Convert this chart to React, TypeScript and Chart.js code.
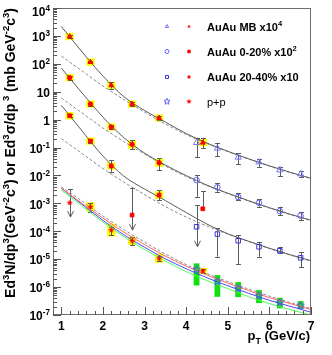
import React, { useEffect, useRef } from "react";
import { Chart, registerables } from "chart.js";
Chart.register(...registerables);

// ---------------- data ----------------
const xTicks = [1, 2, 3, 4, 5, 6, 7];
const yDecades = [-7, -6, -5, -4, -3, -2, -1, 0, 1, 2, 3, 4];

const ptCurve = [1, 1.5, 2, 2.5, 3, 3.5, 4, 4.5, 5, 5.5, 6, 6.5, 7];
// p+p fit (dashed) and NLO pQCD curves (three scales)
const ppFitCurve = [3.9e-3, 1.209e-3, 3.51e-4, 1.151e-4, 4.1e-5, 1.524e-5, 6.4e-6, 3.05e-6, 1.574e-6, 8.48e-7, 4.76e-7, 2.78e-7, 1.696e-7];
const ppNloRed = [3.5e-3, 9.9e-4, 2.97e-4, 9.36e-5, 3.34e-5, 1.292e-5, 5.66e-6, 2.69e-6, 1.391e-6, 7.49e-7, 4.2e-7, 2.56e-7, 1.562e-7];
const ppNloBlue = [3.45e-3, 9.21e-4, 2.46e-4, 7.49e-5, 2.67e-5, 1.034e-5, 4.53e-6, 2.16e-6, 1.113e-6, 5.99e-7, 3.37e-7, 2.05e-7, 1.25e-7];
const ppNloGreen = [3.0e-3, 8.0e-4, 2.14e-4, 6.46e-5, 2.21e-5, 8.55e-6, 3.59e-6, 1.71e-6, 8.84e-7, 4.57e-7, 2.56e-7, 1.56e-7, 1.0e-7];
// Au+Au: scaled p+p fit (dashed) and fit + exponential (solid)
const mbTaaCurve = [190.4, 55.2, 16.03, 5.26, 1.872, 0.696, 0.292, 0.139, 0.0719, 0.0387, 0.0217, 0.0127, 0.00774];
const mbFullCurve = [2172, 264.8, 36.5, 6.73, 2.12, 0.82, 0.3176, 0.145, 0.0733, 0.0395, 0.0221, 0.01295, 0.0079];
const c020TaaCurve = [5.95, 1.724, 0.5005, 0.1641, 0.0585, 0.02173, 9.13e-3, 4.35e-3, 2.245e-3, 1.209e-3, 6.79e-4, 3.96e-4, 2.42e-4];
const c020FullCurve = [70.7, 8.98, 1.239, 0.2284, 0.0635, 0.0236, 9.92e-3, 4.48e-3, 2.31e-3, 1.245e-3, 7.0e-4, 4.08e-4, 2.49e-4];
const c2040TaaCurve = [0.2102, 0.0609, 0.01769, 5.8e-3, 2.066e-3, 7.68e-4, 3.23e-4, 1.537e-4, 7.93e-5, 4.27e-5, 2.4e-5, 1.401e-5, 8.55e-6];
const c2040FullCurve = [3.255, 0.3904, 0.04959, 9.52e-3, 3.255e-3, 1.26e-3, 4.68e-4, 1.81e-4, 8.17e-5, 4.4e-5, 2.47e-5, 1.443e-5, 8.8e-6];

const ptVirtual = [1.2, 1.7, 2.2, 2.7, 3.35, 4.4];
const ptReal = [4.25, 4.75, 5.25, 5.75, 6.25, 6.75];

// Au+Au MB x10^4
const mbVirtual = [950, 116, 17, 3.62, 1.14, 0.149];
const mbVirtualLo = [870, 104, 13, 3.0, 0.95, 0.0936];
const mbVirtualHi = [1040, 128, 22, 4.3, 1.4, 0.2246];
const mbVirtualSys = [1.35, 1.35, 1.35, 1.35, 1.35, 1.35];
const mbReal = [0.149, 0.0936, 0.0445, 0.0302, 0.0156, 0.01122];
const mbRealLo = [0.0445, 0.0496, 0.0256, 0.0205, 0.0095, 0.00855];
const mbRealHi = [0.2246, 0.1486, 0.0619, 0.0378, 0.0205, 0.01474];

// Au+Au 0-20% x10^2
const c020Virtual = [31.8, 3.62, 0.543, 0.1302, 0.0285, null];
const c020VirtualLo = [27, 3.2, 0.46, 0.0862, 0.0156, null];
const c020VirtualHi = [38, 4.1, 0.64, 0.1857, 0.041, null];
const c020VirtualSys = [1.35, 1.35, 1.35, 1.42, 1.4, 0];
const c020Real = [6.84e-3, 3.75e-3, 1.68e-3, 1.05e-3, 5.3e-4, 3.59e-4];
const c020RealLo = [1.72e-3, 2.6e-3, 1.31e-3, 7.55e-4, 3.81e-4, 2.52e-4];
const c020RealHi = [1.034e-2, 5.47e-3, 2.28e-3, 1.43e-3, 7.55e-4, 5.0e-4];

// Au+Au 20-40% x10
const c2040Virtual = [1.38, 0.171, 0.0217, 3.81e-4, 1.98e-3, 6.4e-4];
const c2040VirtualLo = [1.2, 0.148, 0.0136, null, 1.31e-3, null];
const c2040VirtualHi = [1.6, 0.2, 0.0356, 3.54e-3, 3.0e-3, 2.76e-3];
const c2040VirtualArrow = [null, null, null, 1.1e-4, null, null];
const c2040VirtualSys = [1.35, 1.35, 1.35, 0, 1.38, 0];
const c2040Real = [1.45e-4, 7.93e-5, 4.57e-5, 2.78e-5, 2.0e-5, 1.12e-5];
const c2040RealLo = [null, 1.22e-5, 6.67e-6, 1.22e-5, 1.61e-5, 5.08e-6];
const c2040RealHi = [8.69e-4, 1.27e-4, 7.31e-5, 4.2e-5, 2.78e-5, 1.75e-5];
const c2040RealArrow = [2.78e-5, null, null, null, null, null];

// p+p
const ppVirtual = [1.05e-3, 7.55e-4, 1.104e-4, 4.57e-5, 1.068e-5, 3.75e-6];
const ppVirtualLo = [null, 5.0e-4, 7.31e-5, 3.2e-5, 8.5e-6, 3.2e-6];
const ppVirtualHi = [3.26e-3, 1.025e-3, 1.45e-4, 6.35e-5, 1.35e-5, 4.4e-6];
const ppVirtualArrow = [3.23e-4, null, null, null, null, null];
const ppVirtualSys = [0, 1.45, 1.7, 1.4, 1.45, 1.3];
const ppReal = [4.31e-6, 1.55e-6, 8.98e-7, 4.88e-7, 2.74e-7, 2.21e-7];
const ppRealSysLo = [1.144e-6, 4.49e-7, 4.38e-7, 2.67e-7, 1.72e-7, 1.63e-7];
const ppRealSysHi = [7.07e-6, 2.69e-6, 1.51e-6, 7.81e-7, 4.14e-7, 3.15e-7];

const legendRows = [
  { style: "triangle", text: "AuAu MB x10", exp: "4", bold: true },
  { style: "circle", text: "AuAu 0-20% x10", exp: "2", bold: true },
  { style: "rect", text: "AuAu 20-40% x10", exp: "", bold: true },
  { style: "star", text: "p+p", exp: "", bold: false },
];

// ---------------- styling ----------------
const FONT = "'Liberation Sans', Arial, Helvetica, sans-serif";
const RED = "#ff0000";
const BLUE_TRI = "#7878ff";
const BLUE_CIR = "#6060ff";
const BLUE_SQ = "#3838d8";
const BLUE_STAR = "#5656f0";
const YELLOW = "#ffff00";
const GREEN = "#10e010";
const ERR = "#5c5c5c";

type Seg = { t: string; s?: "sup" | "sub" };

function segFont(size: number, weight: string, s?: string) {
  const sz = s ? size * 0.68 : size;
  return `${weight} ${sz}px ${FONT}`;
}
function richWidth(ctx: CanvasRenderingContext2D, segs: Seg[], size: number, weight: string) {
  let w = 0;
  for (const sg of segs) {
    ctx.font = segFont(size, weight, sg.s);
    w += ctx.measureText(sg.t).width;
  }
  return w;
}
function drawRich(ctx: CanvasRenderingContext2D, segs: Seg[], x: number, y: number, size: number, weight: string, align: string) {
  const w = richWidth(ctx, segs, size, weight);
  let cx = align === "right" ? x - w : align === "center" ? x - w / 2 : x;
  ctx.textBaseline = "alphabetic";
  ctx.textAlign = "left";
  for (const sg of segs) {
    ctx.font = segFont(size, weight, sg.s);
    const dy = sg.s === "sup" ? -size * 0.42 : sg.s === "sub" ? size * 0.3 : 0;
    ctx.fillText(sg.t, cx, y + dy);
    cx += ctx.measureText(sg.t).width;
  }
}

function starCanvas(r: number, fill: string | null, stroke: string | null) {
  const s = Math.ceil(r * 2 + 3);
  const c = document.createElement("canvas");
  c.width = s;
  c.height = s;
  const g = c.getContext("2d")!;
  g.translate(s / 2, s / 2);
  g.beginPath();
  for (let i = 0; i < 10; i++) {
    const a = -Math.PI / 2 + (i * Math.PI) / 5;
    const rr = i % 2 === 0 ? r : r * 0.45;
    g.lineTo(rr * Math.cos(a), rr * Math.sin(a));
  }
  g.closePath();
  if (fill) {
    g.fillStyle = fill;
    g.fill();
  }
  if (stroke) {
    g.strokeStyle = stroke;
    g.lineWidth = 1;
    g.stroke();
  }
  return c;
}

function drawMarker(ctx: CanvasRenderingContext2D, style: string, x: number, y: number, r: number, fill: string | null, stroke: string | null) {
  ctx.beginPath();
  if (style === "triangle") {
    ctx.moveTo(x, y - r);
    ctx.lineTo(x + r * 0.87, y + r * 0.5);
    ctx.lineTo(x - r * 0.87, y + r * 0.5);
    ctx.closePath();
  } else if (style === "circle") {
    ctx.arc(x, y, r, 0, Math.PI * 2);
  } else {
    ctx.rect(x - r * 0.75, y - r * 0.75, r * 1.5, r * 1.5);
  }
  if (fill) {
    ctx.fillStyle = fill;
    ctx.fill();
  }
  if (stroke) {
    ctx.strokeStyle = stroke;
    ctx.lineWidth = 1;
    ctx.stroke();
  }
}

type ErrSet = { x: number[]; y: (number | null)[]; lo: (number | null)[]; hi: (number | null)[]; arrow?: (number | null)[] };
const errSets: ErrSet[] = [
  { x: ptVirtual, y: mbVirtual, lo: mbVirtualLo, hi: mbVirtualHi },
  { x: ptReal, y: mbReal, lo: mbRealLo, hi: mbRealHi },
  { x: ptVirtual, y: c020Virtual, lo: c020VirtualLo, hi: c020VirtualHi },
  { x: ptReal, y: c020Real, lo: c020RealLo, hi: c020RealHi },
  { x: ptVirtual, y: c2040Virtual, lo: c2040VirtualLo, hi: c2040VirtualHi, arrow: c2040VirtualArrow },
  { x: ptReal, y: c2040Real, lo: c2040RealLo, hi: c2040RealHi, arrow: c2040RealArrow },
  { x: ptVirtual, y: ppVirtual, lo: ppVirtualLo, hi: ppVirtualHi, arrow: ppVirtualArrow },
];
const sysSets = [
  { x: ptVirtual, y: mbVirtual, f: mbVirtualSys },
  { x: ptVirtual, y: c020Virtual, f: c020VirtualSys },
  { x: ptVirtual, y: c2040Virtual, f: c2040VirtualSys },
  { x: ptVirtual, y: ppVirtual, f: ppVirtualSys },
];

const overlay = {
  id: "overlay",
  beforeDatasetsDraw(chart: any) {
    const { ctx, chartArea: a, scales } = chart;
    const xs = scales.x;
    const ys = scales.y;
    ctx.save();
    ctx.beginPath();
    ctx.rect(a.left, a.top, a.right - a.left, a.bottom - a.top);
    ctx.clip();
    // yellow systematic boxes
    ctx.fillStyle = YELLOW;
    for (const s of sysSets) {
      s.x.forEach((xv, i) => {
        const v = s.y[i];
        const f = s.f[i];
        if (v == null || !f) return;
        const x0 = xs.getPixelForValue(xv - 0.1);
        const x1 = xs.getPixelForValue(xv + 0.1);
        const y0 = ys.getPixelForValue(v * f);
        const y1 = ys.getPixelForValue(v / f);
        ctx.fillRect(x0, y0, x1 - x0, y1 - y0);
      });
    }
    // green boxes for p+p real photons
    ctx.fillStyle = GREEN;
    ptReal.forEach((xv, i) => {
      const x0 = xs.getPixelForValue(xv - 0.07);
      const x1 = xs.getPixelForValue(xv + 0.07);
      const y0 = ys.getPixelForValue(ppRealSysHi[i]);
      const y1 = ys.getPixelForValue(ppRealSysLo[i]);
      ctx.fillRect(x0, y0, x1 - x0, y1 - y0);
    });
    // error bars
    ctx.strokeStyle = ERR;
    ctx.lineWidth = 1;
    for (const s of errSets) {
      s.x.forEach((xv, i) => {
        const v = s.y[i];
        if (v == null) return;
        const px = Math.round(xs.getPixelForValue(xv)) + 0.5;
        const py = ys.getPixelForValue(v);
        const hi = s.hi[i];
        const lo = s.lo[i];
        const ar = s.arrow ? s.arrow[i] : null;
        const top = hi != null ? ys.getPixelForValue(hi) : py;
        const bot = ar != null ? ys.getPixelForValue(ar) : lo != null ? ys.getPixelForValue(lo) : py;
        ctx.beginPath();
        ctx.moveTo(px, top);
        ctx.lineTo(px, bot);
        if (hi != null) {
          ctx.moveTo(px - 2.5, Math.round(top) + 0.5);
          ctx.lineTo(px + 2.5, Math.round(top) + 0.5);
        }
        if (ar != null) {
          ctx.moveTo(px - 3, bot - 6);
          ctx.lineTo(px, bot);
          ctx.lineTo(px + 3, bot - 6);
        } else if (lo != null) {
          ctx.moveTo(px - 2.5, Math.round(bot) + 0.5);
          ctx.lineTo(px + 2.5, Math.round(bot) + 0.5);
        }
        ctx.stroke();
      });
    }
    ctx.restore();
  },
  afterDraw(chart: any) {
    const { ctx, chartArea: a, scales } = chart;
    const xs = scales.x;
    const ys = scales.y;
    ctx.save();
    // frame
    ctx.strokeStyle = "#6e6e6e";
    ctx.lineWidth = 1;
    ctx.strokeRect(a.left + 0.5, a.top + 0.5, a.right - a.left - 1, a.bottom - a.top - 1);
    // y ticks
    ctx.strokeStyle = "#555";
    ctx.beginPath();
    yDecades.forEach((d) => {
      const yp = Math.round(ys.getPixelForValue(Math.pow(10, d))) + 0.5;
      ctx.moveTo(a.left, yp);
      ctx.lineTo(a.left + 8, yp);
      if (d < 4) {
        for (let k = 2; k <= 9; k++) {
          const ym = Math.round(ys.getPixelForValue(k * Math.pow(10, d))) + 0.5;
          ctx.moveTo(a.left, ym);
          ctx.lineTo(a.left + 4, ym);
        }
      }
    });
    // x ticks
    for (let t = 0.8; t <= 7.001; t += 0.2) {
      const xp = Math.round(xs.getPixelForValue(t)) + 0.5;
      const major = Math.abs(t - Math.round(t)) < 0.01;
      ctx.moveTo(xp, a.bottom);
      ctx.lineTo(xp, a.bottom - (major ? 8 : 4));
    }
    ctx.stroke();
    // labels
    ctx.fillStyle = "#000";
    yDecades.forEach((d) => {
      const yp = ys.getPixelForValue(Math.pow(10, d)) + (d === 4 ? 4 : 1);
      const segs: Seg[] = d === 0 ? [{ t: "1" }] : d === 1 ? [{ t: "10" }] : [{ t: "10" }, { t: String(d), s: "sup" }];
      drawRich(ctx, segs, 50, yp + 4.3, 12, "bold", "right");
    });
    xTicks.forEach((t) => {
      drawRich(ctx, [{ t: String(t) }], xs.getPixelForValue(t), 329.5, 12, "bold", "center");
    });
    // x title
    drawRich(ctx, [{ t: "p" }, { t: "T", s: "sub" }, { t: " (GeV/c)" }], 310, 340, 13, "bold", "right");
    // y title
    const ySegs: Seg[] = [
      { t: "Ed" }, { t: "3", s: "sup" }, { t: "N/dp" }, { t: "3", s: "sup" }, { t: "(GeV" }, { t: "-2", s: "sup" },
      { t: "c" }, { t: "3", s: "sup" }, { t: ") or Ed" }, { t: "3", s: "sup" }, { t: "σ/dp" }, { t: " 3", s: "sup" },
      { t: " (mb GeV" }, { t: "-2", s: "sup" }, { t: "c" }, { t: "3", s: "sup" }, { t: ")" },
    ];
    const w12 = richWidth(ctx, ySegs, 12, "bold");
    const ySize = (12 * 290) / w12;
    ctx.save();
    ctx.translate(15, 153);
    ctx.rotate(-Math.PI / 2);
    drawRich(ctx, ySegs, 0, 0, ySize, "bold", "center");
    ctx.restore();
    // legend
    const rowsY = [26.5, 51.5, 77, 101.5];
    legendRows.forEach((r, i) => {
      const yy = rowsY[i];
      if (r.style === "star") {
        const sb = starCanvas(3.2, null, BLUE_STAR);
        const sr = starCanvas(2.8, RED, null);
        ctx.drawImage(sb, 167 - sb.width / 2, yy - sb.height / 2);
        ctx.drawImage(sr, 189 - sr.width / 2, yy - sr.height / 2);
      } else {
        const bc = r.style === "triangle" ? BLUE_TRI : r.style === "circle" ? BLUE_CIR : BLUE_SQ;
        drawMarker(ctx, r.style, 167, yy, 2, null, bc);
        drawMarker(ctx, r.style, 189, yy, 1.9, RED, null);
      }
      ctx.fillStyle = "#000";
      const segs: Seg[] = r.exp ? [{ t: r.text }, { t: r.exp, s: "sup" }] : [{ t: r.text }];
      drawRich(ctx, segs, 207, yy + 4, 11, r.bold ? "bold" : "normal", "left");
    });
    ctx.restore();
  },
};

function pts(xv: number[], yv: (number | null)[]) {
  return xv.map((x, i) => ({ x, y: yv[i] })).filter((p) => p.y != null) as { x: number; y: number }[];
}

export default function App() {
  const ref = useRef<HTMLCanvasElement | null>(null);
  useEffect(() => {
    if (!ref.current) return;
    const redStar = starCanvas(3.2, RED, null);
    const blueStar = starCanvas(4, null, BLUE_STAR);
    const marker = (data: any[], style: any, r: number, fill: string, stroke: string) => ({
      data,
      pointStyle: style,
      pointRadius: r,
      pointBackgroundColor: fill,
      pointBorderColor: stroke,
      pointBorderWidth: 1,
      showLine: false,
      order: 0,
    });
    const curve = (vals: number[], color: string, dash: number[], order = 2) => ({
      data: ptCurve.map((x, i) => ({ x, y: vals[i] })),
      showLine: true,
      borderColor: color,
      borderWidth: 1,
      borderDash: dash,
      pointRadius: 0,
      cubicInterpolationMode: "monotone",
      fill: false,
      order,
    });
    const datasets: any[] = [
      // markers
      marker(pts(ptVirtual, mbVirtual), "triangle", 2.8, RED, RED),
      marker(pts(ptVirtual, c020Virtual), "circle", 2.2, RED, RED),
      marker(pts(ptVirtual, c2040Virtual), "rect", 2.6, RED, RED),
      marker(pts(ptVirtual, ppVirtual), redStar, 3, RED, RED),
      marker(pts(ptReal, mbReal), "triangle", 3.6, "rgba(0,0,0,0)", BLUE_TRI),
      marker(pts(ptReal, c020Real), "circle", 2.8, "rgba(0,0,0,0)", BLUE_CIR),
      marker(pts(ptReal, c2040Real), "rect", 3.2, "rgba(0,0,0,0)", BLUE_SQ),
      marker(pts(ptReal, ppReal), blueStar, 4, "rgba(0,0,0,0)", BLUE_STAR),
      // curves
      curve(mbFullCurve, "#5a5a5a", [], 1),
      curve(c020FullCurve, "#5a5a5a", [], 1),
      curve(c2040FullCurve, "#5a5a5a", [], 1),
      curve(mbTaaCurve, "#8a8a8a", [3, 2], 2),
      curve(c020TaaCurve, "#8a8a8a", [3, 2], 2),
      curve(c2040TaaCurve, "#8a8a8a", [3, 2], 2),
      curve(ppNloRed, "#ff6464", [], 1),
      curve(ppFitCurve, "#8a8a8a", [3, 2], 2),
      curve(ppNloBlue, "#4848ff", [], 1),
      curve(ppNloGreen, "#50ff50", [], 1),
    ];
    const chart = new Chart(ref.current, {
      type: "scatter",
      data: { datasets },
      options: {
        animation: false,
        responsive: false,
        maintainAspectRatio: false,
        devicePixelRatio: 1,
        events: [],
        layout: { padding: { left: 53, top: 8, right: 21, bottom: 40 } },
        plugins: { legend: { display: false }, tooltip: { enabled: false }, title: { display: false } },
        scales: {
          x: { type: "linear", min: 0.8, max: 7, display: false },
          y: { type: "logarithmic", min: 1e-7, max: 1e4, display: false },
        },
      } as any,
      plugins: [overlay as any],
    });
    return () => chart.destroy();
  }, []);
  return (
    <div style={{ position: "fixed", left: 0, top: 0, width: 332, height: 355, background: "#fff" }}>
      <canvas ref={ref} width={332} height={355} style={{ display: "block" }} />
    </div>
  );
}
